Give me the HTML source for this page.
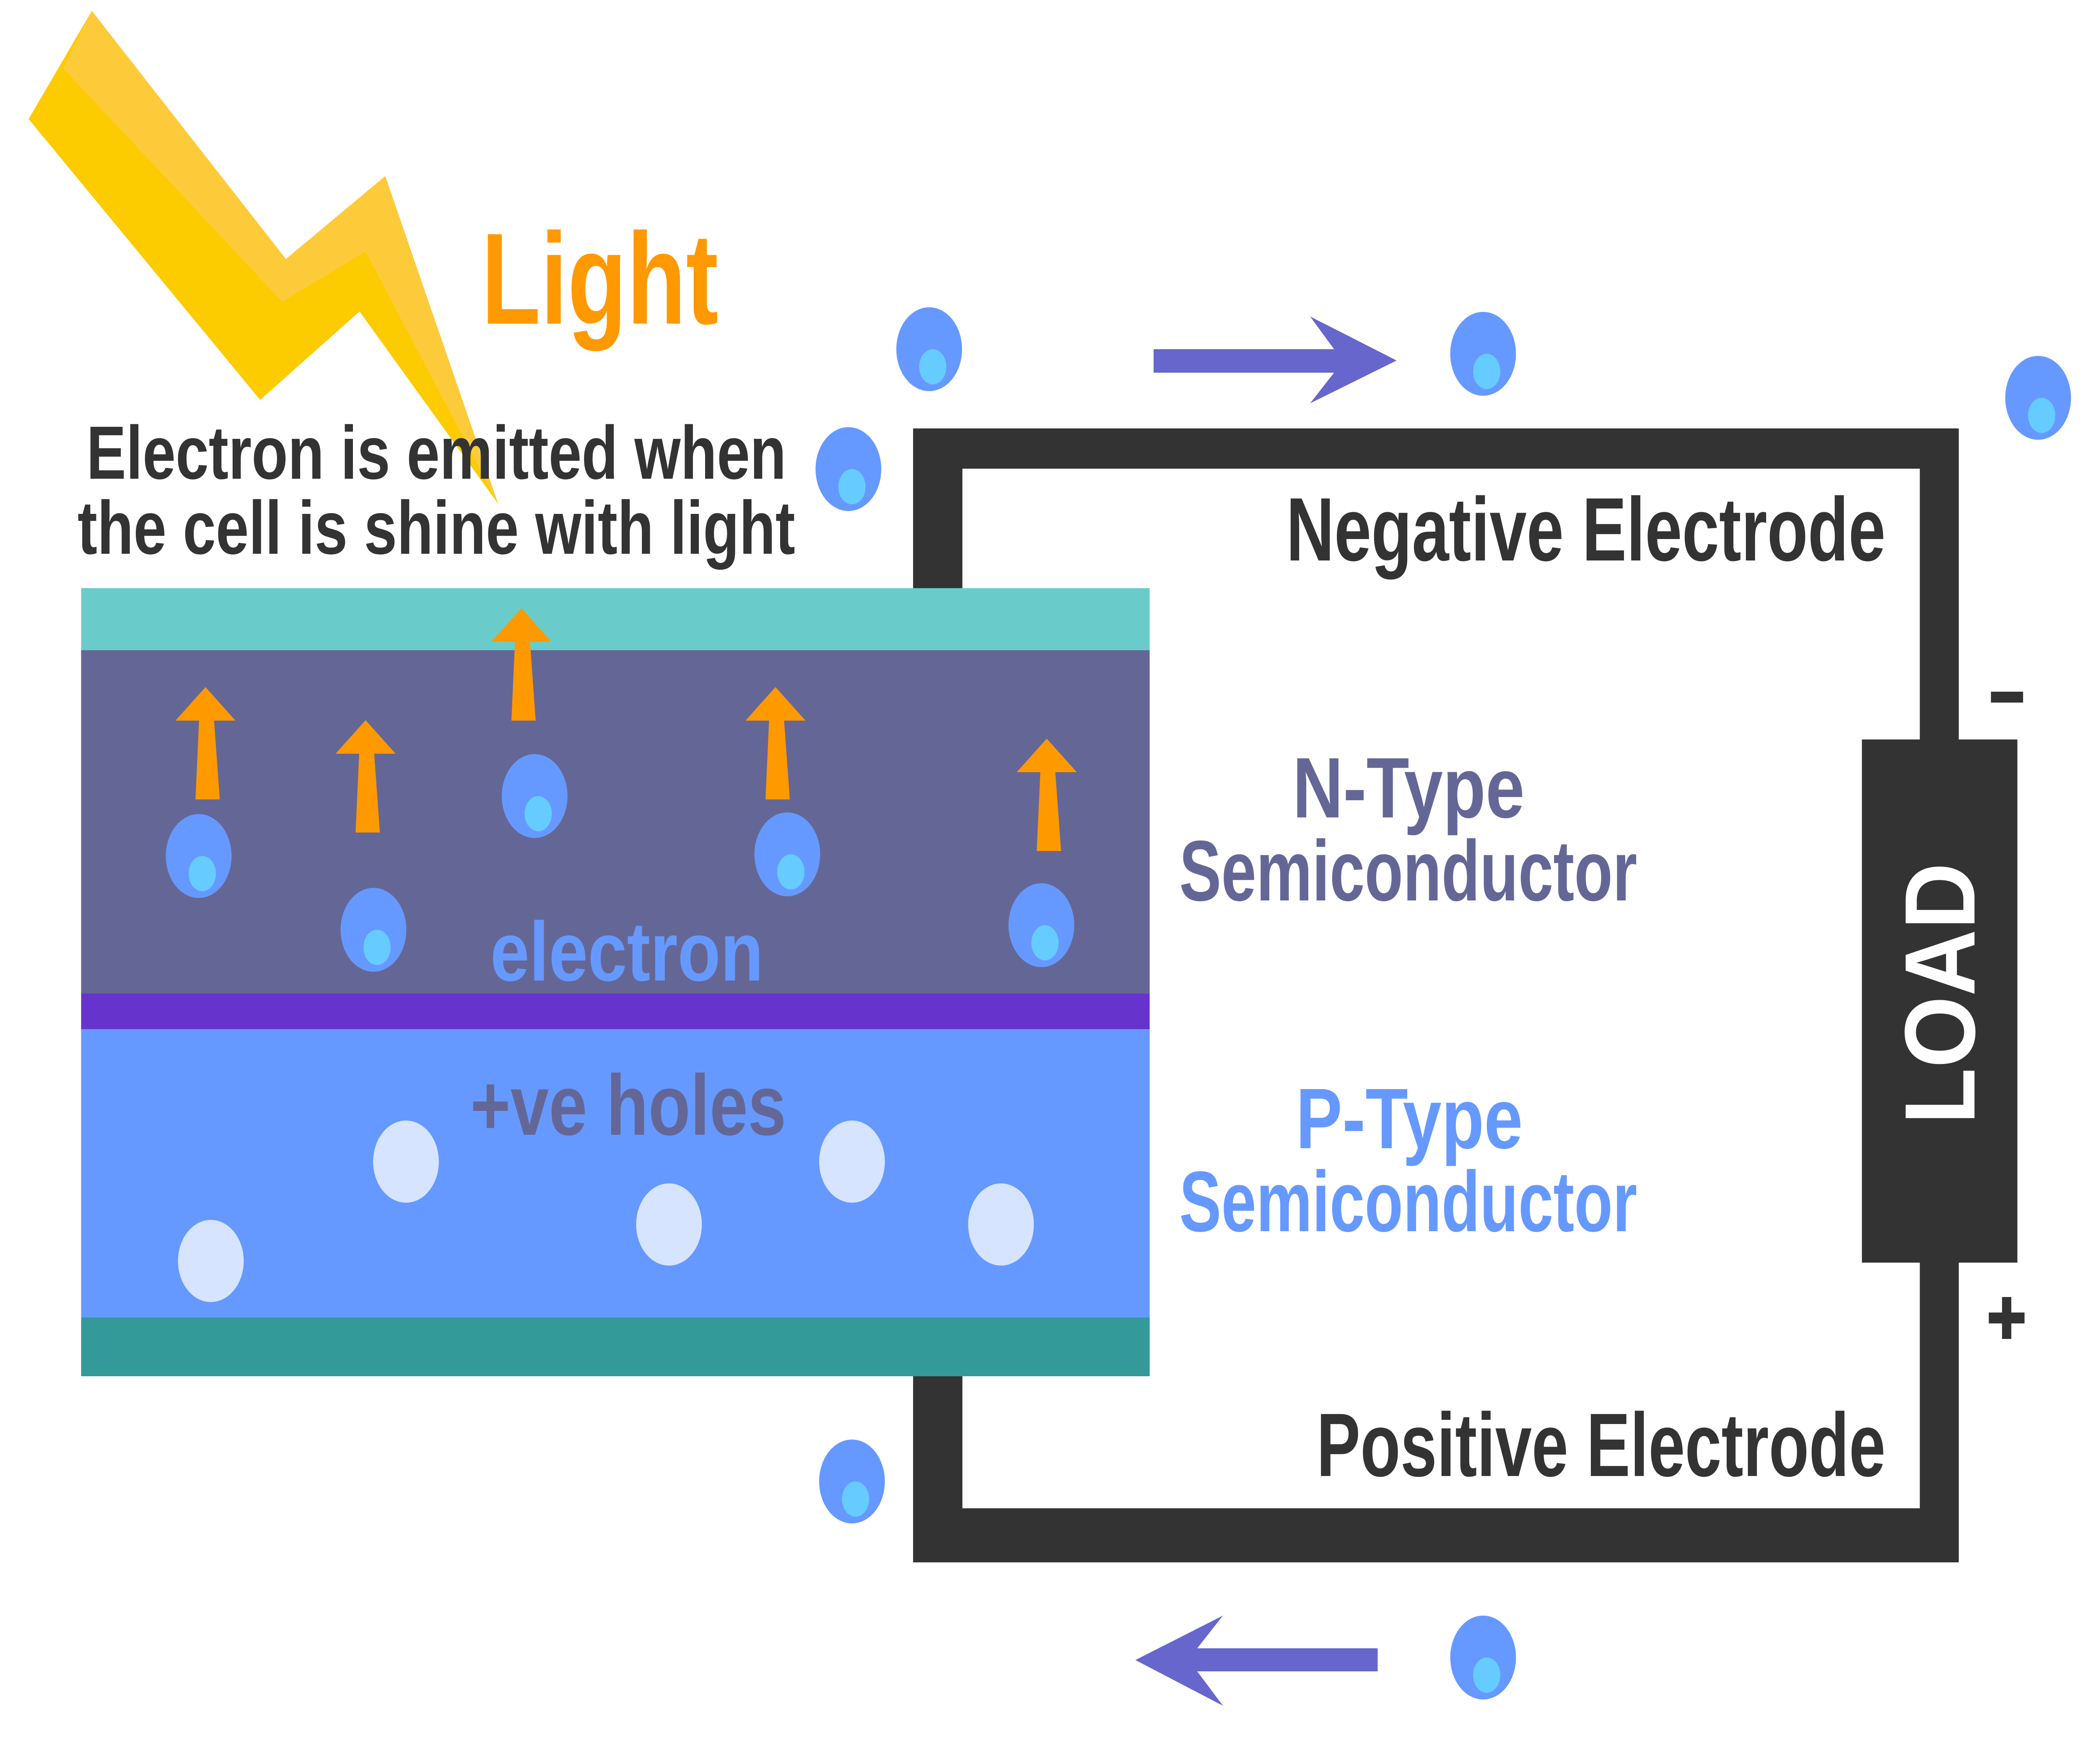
<!DOCTYPE html>
<html><head><meta charset="utf-8"><style>html,body{margin:0;padding:0;background:#fff;overflow:hidden;width:100%;height:100%}svg{display:block;width:100vw;height:100vh}text{font-family:"Liberation Sans Narrow","Liberation Sans",sans-serif;font-weight:bold}</style></head>
<body>
<svg viewBox="0 0 5865 4208" preserveAspectRatio="none" xmlns="http://www.w3.org/2000/svg">
<defs>
<g id="e"><ellipse cx="0" cy="0" rx="92" ry="100" fill="#6699ff"/><ellipse cx="10" cy="42" rx="38" ry="42" fill="#66ccff"/></g>
<g id="h"><ellipse cx="0" cy="0" rx="92" ry="98" fill="#d6e4ff"/></g>
<polygon id="a" points="0,0 84,80 24,80 40,268 -28,268 -18,80 -84,80" fill="#ff9900"/>
</defs>
<polygon points="257,26 80,284 728,954 1006,743 1394,1202 1078,420 800,618" fill="#fccb00"/>
<polygon points="257,26 177,163 790,720 1023,600 1394,1202 1078,420 800,618" fill="#fdcb3a"/>
<text x="1347" y="772" font-size="310" fill="#ff9900" textLength="663" lengthAdjust="spacingAndGlyphs">Light</text>
<text x="242" y="1142" font-size="180" fill="#333" textLength="1958" lengthAdjust="spacingAndGlyphs">Electron is emitted when</text>
<text x="217" y="1321" font-size="180" fill="#333" textLength="2008" lengthAdjust="spacingAndGlyphs">the cell is shine with light</text>
<path d="M2555,1022 H5481 V3727 H2555 Z M2693,1118 V3598 H5372 V1118 Z" fill="#333" fill-rule="evenodd"/>
<rect x="5210" y="1764" width="435" height="1248" fill="#333"/>
<text transform="translate(5525,2370) rotate(-90)" x="0" y="0" text-anchor="middle" font-size="280" fill="#fff" textLength="624" lengthAdjust="spacingAndGlyphs" style="font-family:'Liberation Sans',sans-serif">LOAD</text>
<rect x="5571" y="1650" width="90" height="26" fill="#333"/>
<rect x="5565" y="3131" width="100" height="26" fill="#333"/><rect x="5602" y="3094" width="26" height="100" fill="#333"/>
<text x="3599" y="1337" font-size="215" fill="#333" textLength="1677" lengthAdjust="spacingAndGlyphs">Negative Electrode</text>
<text x="3684" y="3521" font-size="215" fill="#333" textLength="1592" lengthAdjust="spacingAndGlyphs">Positive Electrode</text>
<text x="3617" y="1950" font-size="205" fill="#646796" textLength="649" lengthAdjust="spacingAndGlyphs">N-Type</text>
<text x="3300" y="2148" font-size="205" fill="#646796" textLength="1281" lengthAdjust="spacingAndGlyphs">Semiconductor</text>
<text x="3626" y="2739" font-size="205" fill="#6699ff" textLength="635" lengthAdjust="spacingAndGlyphs">P-Type</text>
<text x="3300" y="2937" font-size="205" fill="#6699ff" textLength="1281" lengthAdjust="spacingAndGlyphs">Semiconductor</text>
<rect x="227" y="1403" width="2990" height="150" fill="#6accca"/>
<rect x="227" y="1551" width="2990" height="820" fill="#646796"/>
<rect x="227" y="2370" width="2990" height="86" fill="#6633cc"/>
<rect x="227" y="2455" width="2990" height="690" fill="#6699ff"/>
<rect x="227" y="3143" width="2990" height="140" fill="#339999"/>
<use href="#a" x="575" y="1639"/><use href="#a" x="1023" y="1718"/><use href="#a" x="1459" y="1451"/><use href="#a" x="2170" y="1639"/><use href="#a" x="2929" y="1762"/>
<use href="#e" x="556" y="2042"/><use href="#e" x="1045" y="2218"/><use href="#e" x="1496" y="1899"/><use href="#e" x="2203" y="2038"/><use href="#e" x="2914" y="2207"/>
<use href="#h" x="1136" y="2771"/><use href="#h" x="590" y="3008"/><use href="#h" x="1872" y="2921"/><use href="#h" x="2384" y="2771"/><use href="#h" x="2801" y="2921"/>
<text x="1372" y="2339" font-size="200" fill="#6699ff" textLength="764" lengthAdjust="spacingAndGlyphs">electron</text>
<text x="1316" y="2707" font-size="205" fill="#646796" textLength="884" lengthAdjust="spacingAndGlyphs">+ve holes</text>
<use href="#e" x="2600" y="833"/><use href="#e" x="4150" y="844"/><use href="#e" x="5703" y="949"/><use href="#e" x="2374" y="1119"/><use href="#e" x="4150" y="3954"/><use href="#e" x="2384" y="3534"/>
<polygon points="3228,833 3733,833 3666,755 3908,860 3666,962 3733,889 3228,889" fill="#6666cc"/>
<polygon points="3855,3932 3350,3932 3422,3854 3177,3960 3422,4069 3350,3987 3855,3987" fill="#6666cc"/>
</svg>
</body></html>
